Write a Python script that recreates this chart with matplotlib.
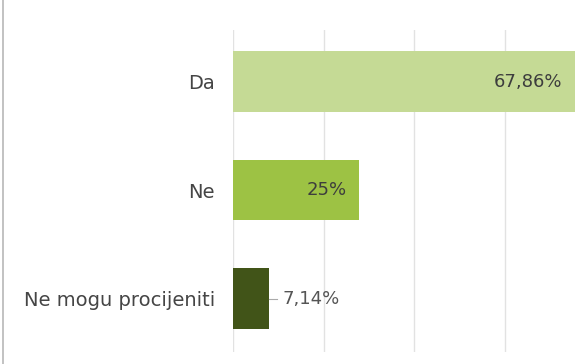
import matplotlib.pyplot as plt
from matplotlib.lines import Line2D

# data
categories = ['Da', 'Ne', 'Ne mogu procijeniti']
values = [67.86, 25, 7.14]
value_labels = ['67,86%', '25%', '7,14%']
colors = ['#c5da95', '#9dc244', '#415418']

plt.rcParams['font.family'] = ['DejaVu Sans']

fig = plt.figure(figsize=(5.82, 3.64), dpi=100)
ax = fig.add_axes([233 / 582, 1 - 352 / 364, 1 - 233 / 582, 322 / 364])

y = list(range(len(categories)))
bars = ax.barh(y, values, height=0.56, color=colors, zorder=2)

ax.set_xlim(0, 69.33)
ax.set_ylim(2.493, -0.475)
ax.set_xticks([0, 18, 36, 54])
ax.xaxis.grid(True, color='#e2e2e2', lw=1, zorder=0)
ax.tick_params(axis='x', length=0, labelbottom=False)
ax.set_yticks(y)
ax.set_yticklabels(categories, fontsize=14, color='#454545')
ax.tick_params(axis='y', length=0, pad=13)
for s in ax.spines.values():
    s.set_visible(False)

# value labels: inside for big bars, outside with a leader for the small one
for i, (v, lab) in enumerate(zip(values, value_labels)):
    if v > 15:
        ax.text(v - 2.4, i, lab, ha='right', va='center', fontsize=13, color='#3d3d3d', zorder=3)
    else:
        ax.plot([v, v + 1.6], [i, i], color='#aaaaaa', lw=0.8, zorder=3)
        ax.text(v + 2.7, i, lab, ha='left', va='center', fontsize=13, color='#555555', zorder=3)

# thin grey rule on the left edge
fig.add_artist(Line2D([3 / 582, 3 / 582], [0, 1], color='#b8b8b8', lw=1.2))

fig.savefig('out.png', dpi=100)
